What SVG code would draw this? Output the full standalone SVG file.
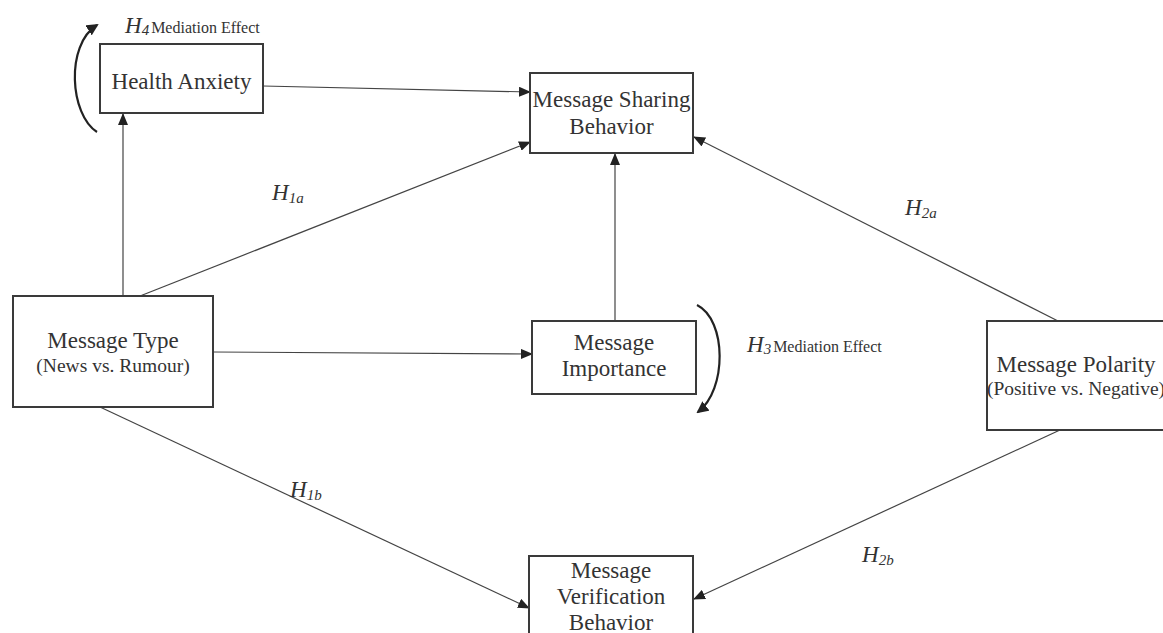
<svg xmlns="http://www.w3.org/2000/svg" width="1163" height="633" viewBox="0 0 1163 633">
<style>
.box{fill:#fff;stroke:#3a3a3a;stroke-width:2}
.t{font-family:"Liberation Serif",serif;font-size:23px;fill:#333;text-anchor:middle}
.s{font-family:"Liberation Serif",serif;font-size:19.5px;fill:#333;text-anchor:middle}
.h{font-family:"Liberation Serif",serif;font-style:italic;font-size:23px;fill:#333}
.sub{font-size:15px}
.me{font-family:"Liberation Serif",serif;font-style:normal;font-size:16px;fill:#333}
.c{stroke:#444;stroke-width:1.2;fill:none}
.arc{stroke:#222;stroke-width:2.2;fill:none}
</style>
<defs>
<marker id="a" markerWidth="12" markerHeight="10" refX="11" refY="5" orient="auto" markerUnits="userSpaceOnUse">
<path d="M0,0 L12,5 L0,10 Z" fill="#222"/>
</marker>
<marker id="b" markerWidth="12" markerHeight="12" refX="10" refY="6" orient="auto" markerUnits="userSpaceOnUse">
<path d="M0,0 L12,6 L0,12 Z" fill="#222"/>
</marker>
</defs>
<rect width="1163" height="633" fill="#fff"/>
<g id="connectors">
<line class="c" x1="263" y1="86" x2="530" y2="92" marker-end="url(#a)"/>
<line class="c" x1="123" y1="296" x2="123" y2="114" marker-end="url(#a)"/>
<line class="c" x1="140" y1="296" x2="530" y2="142" marker-end="url(#a)"/>
<line class="c" x1="615" y1="321" x2="615" y2="154" marker-end="url(#a)"/>
<line class="c" x1="213" y1="352" x2="532" y2="354" marker-end="url(#a)"/>
<line class="c" x1="1058" y1="321" x2="694" y2="137" marker-end="url(#a)"/>
<line class="c" x1="100" y1="407" x2="529" y2="608" marker-end="url(#a)"/>
<line class="c" x1="1060" y1="430" x2="694" y2="599" marker-end="url(#a)"/>
<path class="arc" d="M97,132 C70,115 65,45 97,25" marker-end="url(#b)"/>
<path class="arc" d="M697,305 C727,320 727,390 698,412" marker-end="url(#b)"/>
</g>
<g id="health-anxiety">
<rect class="box" x="100" y="44" width="163" height="69"/>
<text class="t" x="181.5" y="89">Health Anxiety</text>
</g>
<g id="sharing">
<rect class="box" x="530" y="73" width="163" height="80"/>
<text class="t" x="611.5" y="107">Message Sharing</text>
<text class="t" x="611.5" y="134">Behavior</text>
</g>
<g id="message-type">
<rect class="box" x="13" y="296" width="200" height="111"/>
<text class="t" x="113" y="348">Message Type</text>
<text class="s" x="113" y="372">(News vs. Rumour)</text>
</g>
<g id="importance">
<rect class="box" x="532" y="321" width="164" height="73"/>
<text class="t" x="614" y="350">Message</text>
<text class="t" x="614" y="376">Importance</text>
</g>
<g id="polarity">
<rect class="box" x="987" y="321" width="185" height="109"/>
<text class="t" x="1076" y="372">Message Polarity</text>
<text class="s" x="1076" y="395">(Positive vs. Negative)</text>
</g>
<g id="verification">
<rect class="box" x="529" y="556" width="164" height="90"/>
<text class="t" x="611" y="578">Message</text>
<text class="t" x="611" y="604">Verification</text>
<text class="t" x="611" y="630">Behavior</text>
</g>
<g id="labels">
<text class="h" x="125" y="33">H<tspan class="sub" dy="2">4</tspan><tspan class="me" dx="2" dy="-2">Mediation Effect</tspan></text>
<text class="h" x="747" y="352">H<tspan class="sub" dy="2">3</tspan><tspan class="me" dx="2" dy="-2">Mediation Effect</tspan></text>
<text class="h" x="272" y="200">H<tspan class="sub" dy="3">1a</tspan></text>
<text class="h" x="905" y="215">H<tspan class="sub" dy="3">2a</tspan></text>
<text class="h" x="290" y="497">H<tspan class="sub" dy="3">1b</tspan></text>
<text class="h" x="862" y="562">H<tspan class="sub" dy="3">2b</tspan></text>
</g>
</svg>
